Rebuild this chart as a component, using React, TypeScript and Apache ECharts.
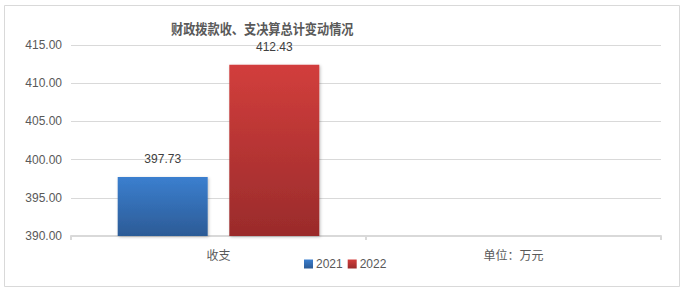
import React, { useEffect, useRef } from "react";
import * as echarts from "echarts";

const titleText = "财政拨款收、支决算总计变动情况";
const categories = ["收支", "单位：万元"];
const seriesNames = ["2021", "2022"];
const values2021 = [397.73, null];
const values2022 = [412.43, null];
const yTicks = { min: 390, max: 415, interval: 5 };

export default function App() {
  const ref = useRef<HTMLDivElement>(null);
  useEffect(() => {
    const chart = echarts.init(ref.current!, null, { renderer: "svg" });
    const font = "Liberation Sans, DejaVu Sans, sans-serif";
    const cjk = "Noto Sans CJK SC, sans-serif";
    chart.setOption({
      animation: false,
      backgroundColor: "#ffffff",
      graphic: [
        {
          type: "rect",
          shape: { x: 4.5, y: 5.5, width: 675, height: 281 },
          style: { fill: "none", stroke: "#d9d9d9", lineWidth: 1 },
          silent: true,
        },
        {
          type: "text",
          x: 171,
          y: 28,
          scaleX: 0.87,
          style: {
            text: titleText,
            fontFamily: cjk,
            fontSize: 14,
            fontWeight: "bold",
            fill: "#595959",
            verticalAlign: "middle",
            align: "left",
          },
          silent: true,
        },
      ],
      legend: {
        data: seriesNames,
        left: 299,
        top: 253,
        itemWidth: 9,
        itemHeight: 9,
        itemGap: 5,
        icon: "rect",
        textStyle: { fontFamily: font, fontSize: 12, color: "#595959", padding: [0, 0, 0, -2] },
      },
      grid: { left: 71, right: 26, top: 45, bottom: 56, containLabel: false },
      xAxis: {
        type: "category",
        data: categories,
        axisLine: { lineStyle: { color: "#d9d9d9", width: 2 } },
        axisTick: { show: true, length: 4, lineStyle: { color: "#d9d9d9", width: 2 } },
        axisLabel: { fontFamily: cjk, fontSize: 12, color: "#595959", margin: 12 },
      },
      yAxis: {
        type: "value",
        min: yTicks.min,
        max: yTicks.max,
        interval: yTicks.interval,
        axisLine: { show: false },
        axisTick: { show: false },
        splitLine: { lineStyle: { color: "#d9d9d9", width: 1 } },
        axisLabel: {
          fontFamily: font,
          fontSize: 12,
          color: "#595959",
          margin: 9,
          formatter: (v: number) => v.toFixed(2),
        },
      },
      series: [
        {
          name: seriesNames[0],
          type: "bar",
          data: values2021,
          barWidth: 90,
          barGap: "24%",
          itemStyle: {
            color: new echarts.graphic.LinearGradient(0, 0, 0, 1, [
              { offset: 0, color: "#3b7fcf" },
              { offset: 1, color: "#2c5b96" },
            ]),
            shadowBlur: 3,
            shadowColor: "rgba(0,0,0,0.25)",
            shadowOffsetX: 1,
            shadowOffsetY: 1,
          },
          label: {
            show: true,
            position: "top",
            distance: 12,
            fontFamily: font,
            fontSize: 12,
            color: "#404040",
            formatter: (p: any) => Number(p.value).toFixed(2),
          },
        },
        {
          name: seriesNames[1],
          type: "bar",
          data: values2022,
          barWidth: 90,
          itemStyle: {
            color: new echarts.graphic.LinearGradient(0, 0, 0, 1, [
              { offset: 0, color: "#d23e3c" },
              { offset: 1, color: "#9a2b2b" },
            ]),
            shadowBlur: 3,
            shadowColor: "rgba(0,0,0,0.25)",
            shadowOffsetX: 1,
            shadowOffsetY: 1,
          },
          label: {
            show: true,
            position: "top",
            distance: 12,
            fontFamily: font,
            fontSize: 12,
            color: "#404040",
            formatter: (p: any) => Number(p.value).toFixed(2),
          },
        },
      ],
    });
    return () => chart.dispose();
  }, []);
  return (
    <div
      ref={ref}
      style={{ position: "fixed", left: 0, top: 0, width: 687, height: 292 }}
    />
  );
}
